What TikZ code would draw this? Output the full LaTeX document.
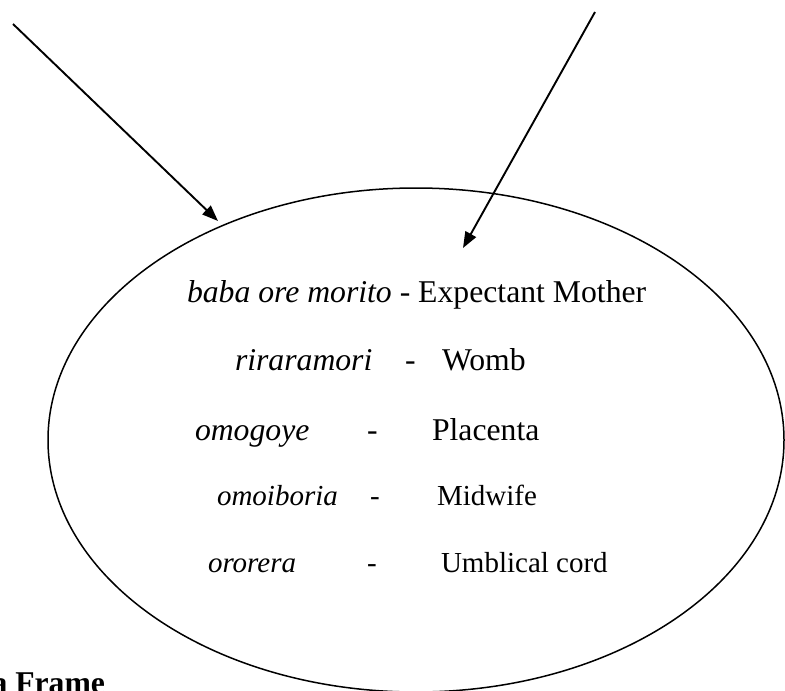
\documentclass[tikz,border=0pt]{standalone}
\usepackage{fontspec}
\setmainfont{Liberation Serif}
\usetikzlibrary{arrows.meta,shapes.geometric}

\tikzset{
  pointer/.style={line width=1.9pt, -{Triangle[length=16pt,width=12pt]}},
  wombline/.style={draw, line width=1.5pt, ellipse, inner sep=0pt},
  txt/.style={anchor=base west, inner sep=0pt, outer sep=0pt},
  big/.style={font=\fontsize{31.7}{36}\selectfont},
  small/.style={font=\fontsize{29}{34}\selectfont},
}

\begin{document}
\begin{tikzpicture}[x=1pt, y=-1pt]
  \useasboundingbox (0,0) rectangle (785,691);
  \clip (0,0) rectangle (785,691);

  % the enclosing ellipse
  \node[wombline, minimum width=736pt, minimum height=504pt] (womb) at (416,440) {};

  % two incoming arrows
  \coordinate (srcA) at (13,24);
  \coordinate (tipA) at (218,221);
  \coordinate (srcB) at (595,12);
  \coordinate (tipB) at (463,248);
  \draw[pointer] (srcA) -- (tipA);
  \draw[pointer] (srcB) -- (tipB);

  % glossary rows
  \node[txt, big] (r1) at (187,302) {\textit{baba ore morito} - Expectant Mother};

  \node[txt, big] (t2) at (235,370) {\textit{riraramori}};
  \node[txt, big] (d2) at (405,370) {-};
  \node[txt, big] (m2) at (442,370) {Womb};

  \node[txt, big] (t3) at (195,440) {\textit{omogoye}};
  \node[txt, big] (d3) at (367,440) {-};
  \node[txt, big] (m3) at (432,440) {Placenta};

  \node[txt, small] (t4) at (217,505) {\textit{omoiboria}};
  \node[txt, small] (d4) at (370,505) {-};
  \node[txt, small] (m4) at (437,505) {Midwife};

  \node[txt, small] (t5) at (208,572) {\textit{ororera}};
  \node[txt, small] (d5) at (367,572) {-};
  \node[txt, small] (m5) at (441,572) {Umblical cord};

  % heading cut by the lower edge
  \node[txt, big] (head) at (-8.5,693) {\textbf{a Frame}};
\end{tikzpicture}
\end{document}
